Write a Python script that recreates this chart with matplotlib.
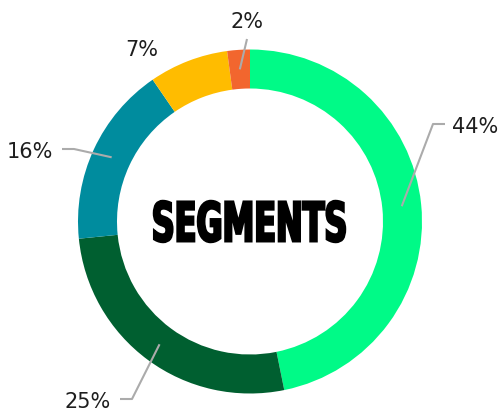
import numpy as np
import matplotlib.pyplot as plt
from matplotlib.textpath import TextPath
from matplotlib.patches import PathPatch
from matplotlib.font_manager import FontProperties
from matplotlib.transforms import Affine2D

# data
segments = ["A", "B", "C", "D", "E"]
shares = [44, 25, 16, 7, 2]
labels = ["44%", "25%", "16%", "7%", "2%"]
colors = ["#00FA87", "#005F30", "#008C9E", "#FFBC00", "#F2662E"]

# layout (pixel coords, y down)
W, H = 504, 416
CX, CY = 250, 221.5
R_OUT, RING = 172, 39
label_xy = [(452, 127), (111, 402), (53, 152), (142, 50), (247, 22)]
label_side = ["left", "right", "right", None, "top"]

fig = plt.figure(figsize=(W / 100, H / 100), dpi=100)
ax = fig.add_axes([0, 0, 1, 1])

wedges, _ = ax.pie(shares, colors=colors, startangle=90, counterclock=False,
                   radius=R_OUT, center=(CX, H - CY),
                   wedgeprops=dict(width=RING, linewidth=0))
ax.set_xlim(0, W)
ax.set_ylim(0, H)
ax.set_aspect("equal")
ax.axis("off")

line_kw = dict(color="#ABABAB", lw=1.5, solid_capstyle="butt", zorder=3)
r_mid = R_OUT - RING / 2
for w, text, (tx, ty), side in zip(wedges, labels, label_xy, label_side):
    ang = np.radians((w.theta1 + w.theta2) / 2)
    px = CX + r_mid * np.cos(ang)
    py = (H - CY) + r_mid * np.sin(ang)
    ty_d = H - ty
    if side == "left":
        ax.plot([px, tx - 19, tx - 7], [py, ty_d + 3, ty_d + 3], **line_kw)
        ha = "left"
    elif side == "right":
        ax.plot([px, tx + 21, tx + 9], [py, ty_d + 3, ty_d + 3], **line_kw)
        ha = "right"
    elif side == "top":
        ax.plot([px, tx], [py, ty_d - 17], **line_kw)
        ha = "center"
    else:
        ha = "center"
    ax.text(tx, ty_d, text, ha=ha, va="center", fontsize=15,
            family="DejaVu Sans", color="#1E1E1E")

# centre title: heavy condensed lettering fitted into its box
fp = FontProperties(family="DejaVu Sans", weight="bold")
tp = TextPath((0, 0), "SEGMENTS", size=10, prop=fp)
bb = tp.get_extents()
x0, x1, y0, y1 = 154, 345, H - 242, H - 201
sx = (x1 - x0) / bb.width
sy = (y1 - y0) / bb.height
tr = Affine2D().translate(-bb.x0, -bb.y0).scale(sx, sy).translate(x0, y0)
ax.add_patch(PathPatch(tr.transform_path(tp), facecolor="black",
                       edgecolor="black", lw=1.8, zorder=4))

fig.savefig("out.png", dpi=100)
